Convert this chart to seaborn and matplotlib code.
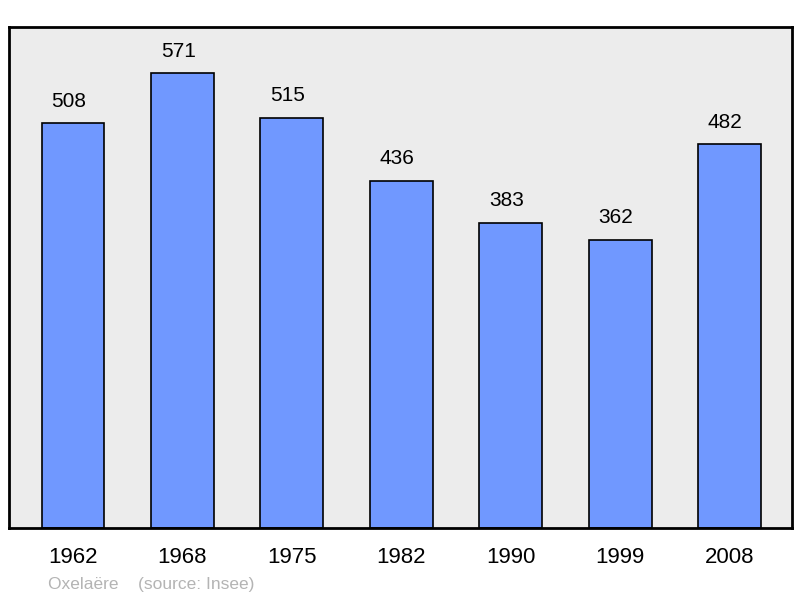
import matplotlib
matplotlib.use("Agg")
import matplotlib.pyplot as plt
import seaborn as sns
import pandas as pd

years = ["1962", "1968", "1975", "1982", "1990", "1999", "2008"]
population = [508, 571, 515, 436, 383, 362, 482]

df = pd.DataFrame({"year": years, "pop": population})

sns.set_theme(style="white")
plt.rcParams["font.family"] = ["Liberation Sans", "DejaVu Sans"]

fig = plt.figure(figsize=(8, 5.98), dpi=100)
ax = fig.add_axes([9 / 800, 70 / 598, 783 / 800, 501 / 598])
ax.set_facecolor("#ececec")

sns.barplot(data=df, x="year", y="pop", color="#7098ff", saturation=1,
            width=0.575, edgecolor="black", linewidth=1.2, ax=ax)

# value labels sit a bit left of the bar centre in the original
for i, v in enumerate(population):
    ax.annotate(str(v), (i, v), xytext=(-3, 9), textcoords="offset points",
                ha="center", va="bottom", fontsize=15, color="black")

ax.set_xlim(-0.585, 6.571)
ax.set_ylim(0, 629)
ax.set_yticks([])
ax.set_xlabel("")
ax.set_ylabel("")
ax.tick_params(axis="x", length=0, labelsize=16, pad=14, colors="black")
for s in ax.spines.values():
    s.set_visible(True)
    s.set_color("black")
    s.set_linewidth(2)

fig.text(48 / 800, 1 - 584 / 598, "Oxelaëre    (source: Insee)", fontsize=12.5,
         color="#b4b4b4", ha="left", va="center")

fig.savefig("out.png", dpi=100, facecolor="white")
